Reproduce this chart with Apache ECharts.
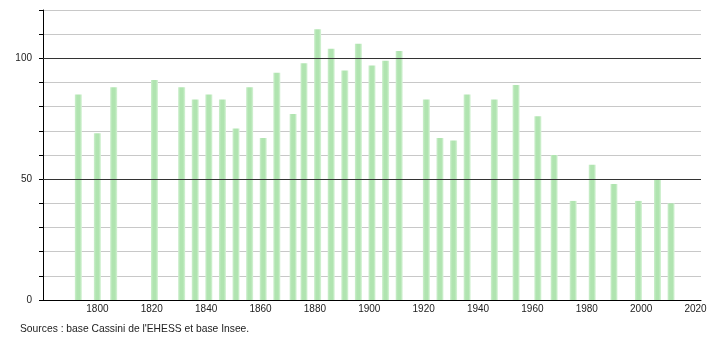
<!DOCTYPE html>
<html><head><meta charset="utf-8">
<script src="https://cdn.jsdelivr.net/npm/echarts@6/dist/echarts.min.js"></script>
<style>html,body{margin:0;padding:0;background:#fff}#c{width:710px;height:340px}</style>
</head><body><div id="c"></div>
<script>
const years = [1793,1800,1806,1821,1831,1836,1841,1846,1851,1856,1861,1866,1872,1876,1881,1886,1891,1896,1901,1906,1911,1921,1926,1931,1936,1946,1954,1962,1968,1975,1982,1990,1999,2006,2011];
const population = [85,69,88,91,88,83,85,83,71,88,67,94,77,98,112,104,95,106,97,99,103,83,67,66,85,83,89,76,60,41,56,48,41,50,40];
const yMajorLines = [50,100];
const sourceText = "Sources : base Cassini de l'EHESS et base Insee.";

const chart = echarts.init(document.getElementById('c'), null, {renderer:'canvas'});
const font = 'Liberation Sans, Arial, sans-serif';
chart.setOption({
  animation:false,
  backgroundColor:'#fff',
  grid:{left:43,right:9,top:10,bottom:40,containLabel:false},
  xAxis:{type:'value',min:1780,max:2022,interval:20,
    axisLine:{show:true,onZero:false,lineStyle:{color:'#000',width:1}},
    axisTick:{show:false},splitLine:{show:false},
    axisLabel:{showMinLabel:false,showMaxLabel:false,color:'#222',fontFamily:font,fontSize:10,margin:4,
      formatter:v=>String(v)}
  },
  yAxis:{type:'value',min:0,max:120,interval:10,
    axisLine:{show:true,lineStyle:{color:'#000',width:1}},
    axisTick:{show:true,length:4,lineStyle:{color:'#000'}},
    splitLine:{show:true,lineStyle:{color:'#c8c8c8',width:1}},
    axisLabel:{color:'#222',fontFamily:font,fontSize:10,margin:11,
      formatter:v=> (v%50===0 && v<=100)? String(v):''}
  },
  graphic:[{type:'text',left:20,top:324,style:{text:sourceText,fill:'#222',font:'10.3px '+font}}],
  series:[{type:'bar',barWidth:7,
    data:years.map((y,i)=>[y,population[i]]),
    itemStyle:{color:new echarts.graphic.LinearGradient(0,0,1,0,[
      {offset:0,color:'#cdefcd'},{offset:0.3,color:'#b0e4b0'},{offset:0.7,color:'#b0e4b0'},{offset:1,color:'#d9f4d9'}])},
    z:1,
    markLine:{silent:true,symbol:'none',label:{show:false},z:3,
      lineStyle:{color:'#333',type:'solid',width:1},
      data:yMajorLines.map(v=>({yAxis:v}))}
  }]
});
</script></body></html>
